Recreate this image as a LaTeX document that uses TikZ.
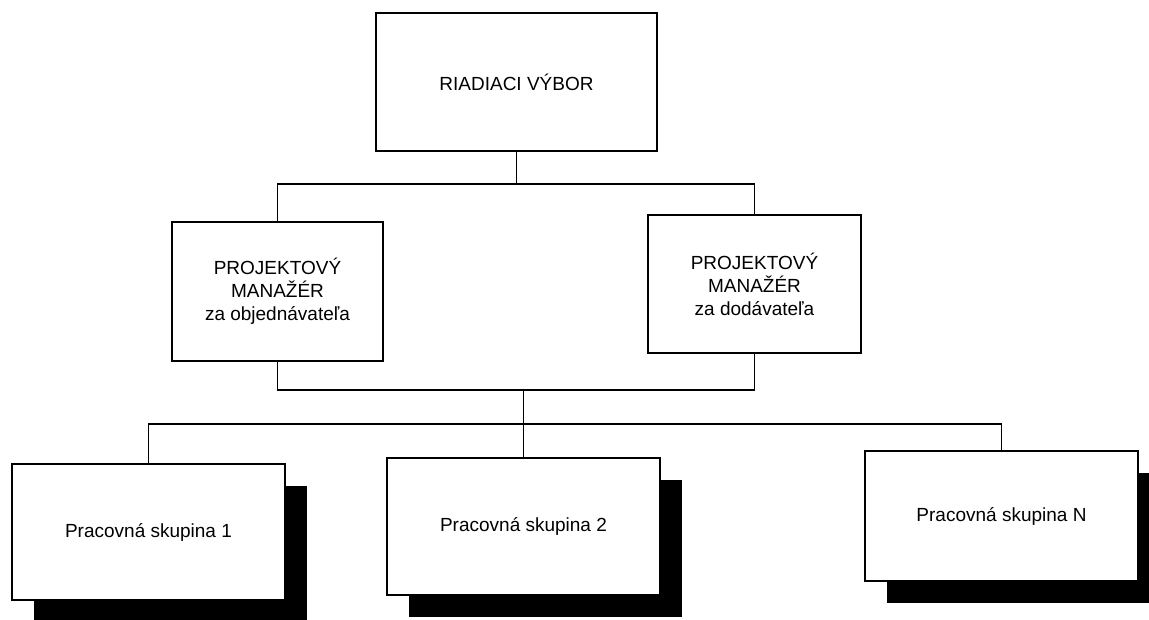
\documentclass[tikz,border=0pt]{standalone}
\usepackage{fontspec}
\setmainfont{Liberation Sans}
\usetikzlibrary{shadows}
\begin{document}
\begin{tikzpicture}[x=1pt,y=-1pt,
  box/.style={draw=black, line width=1.6pt, fill=white, rectangle, align=center,
    inner sep=0pt, font=\fontsize{19}{23}\selectfont},
  grp/.style={box, drop shadow={shadow xshift=22pt, shadow yshift=-22pt, fill=black, opacity=1}},
  conn/.style={draw=black, line width=1.4pt}]
\useasboundingbox (0,0) rectangle (1149,619);
\fill[white] (0,0) rectangle (1149,619);
% nodes
\node[box, minimum width=281pt, minimum height=138pt] (top) at (516.5,82) {RIADIACI VÝBOR};
\node[box, minimum width=211pt, minimum height=139pt] (pm1) at (277.5,291.5) {PROJEKTOVÝ\\MANAŽÉR\\za objednávateľa};
\node[box, minimum width=213pt, minimum height=138pt] (pm2) at (754.5,284) {PROJEKTOVÝ\\MANAŽÉR\\za dodávateľa};
\node[grp, minimum width=273pt, minimum height=136pt] (g1) at (148.5,532) {Pracovná skupina 1};
\node[grp, minimum width=273pt, minimum height=137pt] (g2) at (523.5,526.5) {Pracovná skupina 2};
\node[grp, minimum width=273pt, minimum height=130pt] (gN) at (1001.5,516) {Pracovná skupina N};
% junctions
\coordinate (j1) at (top.south |- 0,184);
\coordinate (j2) at (g2.north |- 0,390);
\coordinate (j3) at (g2.north |- 0,424);
% connectors
\draw[conn] (top.south) -- (j1);
\draw[conn] (pm1.north) |- (j1) -| (pm2.north);
\draw[conn] (pm1.south) |- (j2) -| (pm2.south);
\draw[conn] (j2) -- (g2.north);
\draw[conn] (g1.north) |- (j3) -| (gN.north);
\end{tikzpicture}
\end{document}
